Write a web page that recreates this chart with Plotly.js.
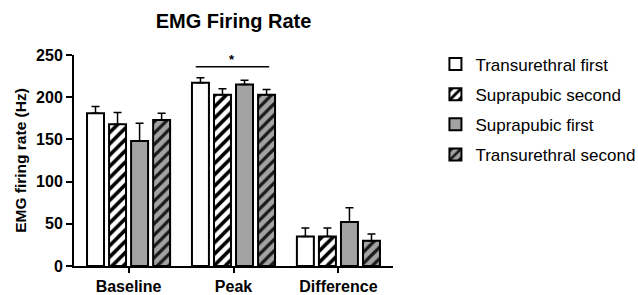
<!DOCTYPE html>
<html>
<head>
<meta charset="utf-8">
<script src="https://cdn.plot.ly/plotly-3.0.1.min.js"></script>
<style>html,body{margin:0;padding:0;background:#fff;}#chart{width:638px;height:295px;}</style>
</head>
<body>
<div id="chart"></div>
<script>
const categories = ["Baseline", "Peak", "Difference"];
const seriesNames = ["Transurethral first", "Suprapubic second", "Suprapubic first", "Transurethral second"];
const transurethralFirst = [181, 217, 35];
const transurethralFirstErr = [8, 6, 10];
const suprapubicSecond = [168, 203, 35];
const suprapubicSecondErr = [14, 7, 10];
const suprapubicFirst = [148, 215, 52];
const suprapubicFirstErr = [21, 5, 17];
const transurethralSecond = [173, 203, 30];
const transurethralSecondErr = [8, 6, 8];
const yTicks = [0, 50, 100, 150, 200, 250];
const sigLabel = "*";

const values = [transurethralFirst, suprapubicSecond, suprapubicFirst, transurethralSecond];
const errs = [transurethralFirstErr, suprapubicSecondErr, suprapubicFirstErr, transurethralSecondErr];
const gray = "#a3a3a3";
const fills = [
  {color: "#ffffff", pattern: {shape: ""}},
  {color: "#ffffff", pattern: {shape: "/", fgcolor: "#000000", bgcolor: "#ffffff", size: 8, solidity: 0.45, fillmode: "replace"}},
  {color: gray, pattern: {shape: ""}},
  {color: gray, pattern: {shape: "/", fgcolor: "#1a1a1a", bgcolor: gray, size: 8, solidity: 0.4, fillmode: "replace"}}
];

const traces = values.map((v, i) => ({
  type: "bar",
  name: seriesNames[i],
  x: categories,
  y: v,
  legendgroup: "g" + i,
  marker: {color: fills[i].color, pattern: fills[i].pattern, line: {color: "#000000", width: 2}},
  error_y: {type: "data", symmetric: false, array: errs[i], arrayminus: v.map(() => 0), color: "#000000", thickness: 1.5, width: 4}
}));

const F = "Liberation Sans, Arial, sans-serif";
const layout = {
  width: 638, height: 295,
  margin: {l: 74, r: 245, t: 55, b: 29, autoexpand: false},
  paper_bgcolor: "#ffffff", plot_bgcolor: "#ffffff",
  barmode: "group", bargap: 0.16, bargroupgap: 0.23,
  showlegend: true,
  title: {text: "<b>EMG Firing Rate</b>", font: {family: F, size: 20, color: "#000000"}, x: 0.366, xanchor: "center", y: 0.93, yanchor: "middle"},
  xaxis: {
    type: "category", range: [-0.52, 2.52], showline: true, linecolor: "#000000", linewidth: 2,
    ticks: "outside", ticklen: 5, tickwidth: 2, tickcolor: "#000000", showgrid: false, zeroline: false,
    tickfont: {family: F, size: 16, color: "#000000", weight: "bold"}, fixedrange: true
  },
  yaxis: {
    range: [0, 250], tickvals: yTicks, showline: true, linecolor: "#000000", linewidth: 2,
    ticks: "outside", ticklen: 6, tickwidth: 2, tickcolor: "#000000", showgrid: false, zeroline: false,
    tickfont: {family: F, size: 16, color: "#000000", weight: "bold"},
    title: {text: "<b>EMG firing rate (Hz)</b>", font: {family: F, size: 15.5, color: "#000000"}, standoff: 6}
  },
  legend: {
    x: 1.133, xanchor: "left", y: 1.04, yanchor: "top",
    font: {family: F, size: 17, color: "#000000"},
    tracegroupgap: 5, itemwidth: 30, traceorder: "grouped",
    bgcolor: "rgba(0,0,0,0)"
  },
  shapes: [
    {type: "line", xref: "x", yref: "y", x0: 0.64, x1: 1.34, y0: 236, y1: 236, line: {color: "#000000", width: 1.5}}
  ],
  annotations: [
    {xref: "x", yref: "y", x: 0.99, y: 245, text: "<b>" + sigLabel + "</b>", showarrow: false, yanchor: "middle", font: {family: F, size: 13, color: "#000000"}}
  ]
};

Plotly.newPlot("chart", traces, layout, {displayModeBar: false, staticPlot: true});
</script>
</body>
</html>
